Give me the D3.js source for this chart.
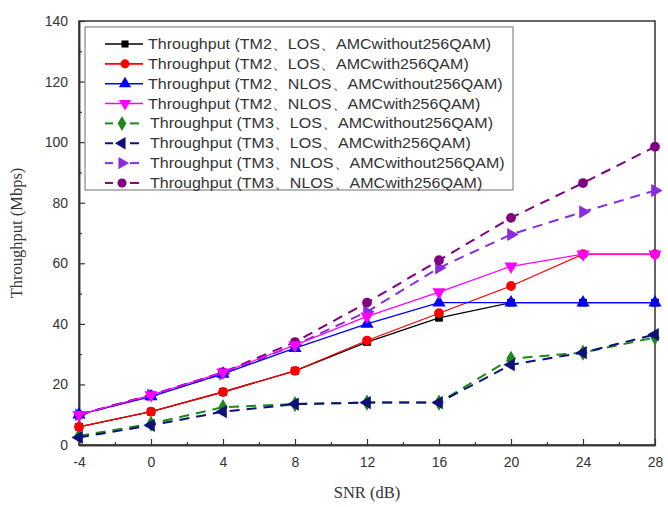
<!DOCTYPE html>
<html>
<head>
<meta charset="utf-8">
<script src="https://cdn.jsdelivr.net/npm/d3@7"></script>
<style>
  body { margin: 0; background: #fff; }
  svg text { fill: #333; }
</style>
</head>
<body>
<svg id="chart" width="668" height="507"></svg>
<script>
const snr = [-4, 0, 4, 8, 12, 16, 20, 24, 28];
const xTicks = [-4, 0, 4, 8, 12, 16, 20, 24, 28];
const yTicks = [0, 20, 40, 60, 80, 100, 120, 140];

const tm2LosWithout = [6, 11, 17.5, 24.5, 34, 42, 47, 47, 47];
const tm2LosWith = [6, 11, 17.5, 24.5, 34.5, 43.5, 52.5, 63, 63];
const tm2NlosWithout = [10, 16, 23.5, 32, 40, 47, 47, 47, 47];
const tm2NlosWith = [10, 16.5, 24, 33, 42.5, 50.5, 59, 63, 63];
const tm3LosWithout = [3, 7, 12.5, 13.5, 14, 14, 28.5, 30.5, 35.5];
const tm3LosWith = [2.5, 6.5, 11, 13.5, 14, 14, 26.5, 30.5, 36.5];
const tm3NlosWithout = [10, 16.5, 23.5, 33, 44, 58.5, 69.5, 77, 84];
const tm3NlosWith = [10, 16.5, 24, 34, 47, 61, 75, 86.5, 98.5];

const seriesNames = [
  "Throughput (TM2、LOS、AMCwithout256QAM)",
  "Throughput (TM2、LOS、AMCwith256QAM)",
  "Throughput (TM2、NLOS、AMCwithout256QAM)",
  "Throughput (TM2、NLOS、AMCwith256QAM)",
  "Throughput (TM3、LOS、AMCwithout256QAM)",
  "Throughput (TM3、LOS、AMCwith256QAM)",
  "Throughput (TM3、NLOS、AMCwithout256QAM)",
  "Throughput (TM3、NLOS、AMCwith256QAM)"
];

// drawing order matters a bit: later series sit on top
const series = [
  { name: seriesNames[4], values: tm3LosWithout, color: "#1a8a1a", marker: "diamond", dash: true },
  { name: seriesNames[5], values: tm3LosWith, color: "#10107a", marker: "left", dash: true },
  { name: seriesNames[6], values: tm3NlosWithout, color: "#8a2be2", marker: "right", dash: true },
  { name: seriesNames[7], values: tm3NlosWith, color: "#800080", marker: "circle", dash: true },
  { name: seriesNames[0], values: tm2LosWithout, color: "#000000", marker: "square", dash: false },
  { name: seriesNames[1], values: tm2LosWith, color: "#ff0000", marker: "circle", dash: false },
  { name: seriesNames[2], values: tm2NlosWithout, color: "#0000ff", marker: "up", dash: false },
  { name: seriesNames[3], values: tm2NlosWith, color: "#ff00ff", marker: "down", dash: false }
];
const legendOrder = [4, 5, 6, 7, 0, 1, 2, 3];

const margin = { left: 79, right: 13, top: 21, bottom: 62 };
const width = 668, height = 507;

const svg = d3.select("#chart");

const x = d3.scaleLinear().domain([-4, 28]).range([margin.left, width - margin.right]);
const y = d3.scaleLinear().domain([0, 140]).range([height - margin.bottom, margin.top]);

// frame
svg.append("rect")
  .attr("x", x(-4)).attr("y", y(140))
  .attr("width", x(28) - x(-4)).attr("height", y(0) - y(140))
  .attr("fill", "none").attr("stroke", "#333").attr("stroke-width", 1.5);

// axes, ticks pointing inward
svg.append("g")
  .attr("transform", `translate(0,${y(0)})`)
  .call(d3.axisBottom(x).tickValues(xTicks).tickFormat(d => String(d))
    .tickSizeInner(-6).tickSizeOuter(0).tickPadding(12));
svg.append("g")
  .attr("transform", `translate(0,${y(0)})`)
  .call(d3.axisBottom(x).tickValues(d3.range(-2, 28, 4)).tickSizeInner(-3).tickSizeOuter(0).tickFormat(""));

svg.append("g")
  .attr("transform", `translate(${x(-4)},0)`)
  .call(d3.axisLeft(y).tickValues(yTicks).tickFormat(d => String(d))
    .tickSizeInner(-6).tickSizeOuter(0).tickPadding(11));
svg.append("g")
  .attr("transform", `translate(${x(-4)},0)`)
  .call(d3.axisLeft(y).tickValues(d3.range(10, 140, 20)).tickSizeInner(-3).tickSizeOuter(0).tickFormat(""));

svg.selectAll(".domain").attr("stroke", "#333").attr("stroke-width", 1.5);
svg.selectAll(".tick line").attr("stroke", "#333").attr("stroke-width", 1.2);
svg.selectAll(".tick text")
  .attr("font-family", "Liberation Sans, Arial, sans-serif")
  .attr("font-size", 14)
  .attr("fill", "#444");

// axis titles
svg.append("text")
  .attr("x", x(12)).attr("y", 498)
  .attr("text-anchor", "middle")
  .attr("font-family", "Liberation Serif, Times New Roman, serif")
  .attr("font-size", 16.5)
  .text("SNR (dB)");

svg.append("text")
  .attr("transform", `translate(22,${(y(0) + y(140)) / 2}) rotate(-90)`)
  .attr("text-anchor", "middle")
  .attr("font-family", "Liberation Serif, Times New Roman, serif")
  .attr("font-size", 16.5)
  .text("Throughput (Mbps)");

// markers
function drawMarker(g, kind, color, cx, cy, size) {
  const rot = { up: 0, down: 180, left: -90, right: 90 }[kind];
  if (rot !== undefined) {
    g.append("path")
      .attr("d", d3.symbol(d3.symbolTriangle, size)())
      .attr("transform", `translate(${cx},${cy}) rotate(${rot})`)
      .attr("fill", color);
  } else {
    const sym = { square: d3.symbolSquare, circle: d3.symbolCircle, diamond: d3.symbolDiamond }[kind];
    g.append("path")
      .attr("d", d3.symbol(sym, size)())
      .attr("transform", `translate(${cx},${cy})`)
      .attr("fill", color);
  }
}

const line = d3.line()
  .x((d, i) => x(snr[i]))
  .y(d => y(d));

series.forEach(s => {
  const g = svg.append("g");
  g.append("path")
    .datum(s.values)
    .attr("d", line)
    .attr("fill", "none")
    .attr("stroke", s.color)
    .attr("stroke-width", s.dash ? 2 : 1.3)
    .attr("stroke-dasharray", s.dash ? "10,7" : null);
  s.values.forEach((v, i) => {
    drawMarker(g, s.marker, s.color, x(snr[i]), y(v), s.marker === "square" ? 60 : 75);
  });
});

// legend
const legend = svg.append("g");
legend.append("rect")
  .attr("x", 85).attr("y", 27)
  .attr("width", 428).attr("height", 163)
  .attr("fill", "#fff").attr("stroke", "#888").attr("stroke-width", 1.2);

const labels = [];
legendOrder.forEach((si, row) => {
  const s = series[si];
  const cy = 44 + row * 19.85;
  const lg = legend.append("g");
  if (s.dash) {
    lg.append("line").attr("x1", 105).attr("x2", 113).attr("y1", cy).attr("y2", cy)
      .attr("stroke", s.color).attr("stroke-width", 2);
    lg.append("line").attr("x1", 130).attr("x2", 139).attr("y1", cy).attr("y2", cy)
      .attr("stroke", s.color).attr("stroke-width", 2);
  } else {
    lg.append("line").attr("x1", 105).attr("x2", 143).attr("y1", cy).attr("y2", cy)
      .attr("stroke", s.color).attr("stroke-width", 1.6);
  }
  drawMarker(lg, s.marker, s.color, s.dash ? 122 : 125, cy, s.marker === "square" ? 50 : 65);
  const tx = s.dash ? 150 : 148;
  const t = lg.append("text")
    .attr("x", 0).attr("y", 0)
    .attr("transform", `translate(${tx},${cy + 5})`)
    .attr("font-family", "Liberation Sans, Arial, sans-serif")
    .attr("font-size", 14)
    .attr("fill", "#222")
    .text(s.name);
  labels.push({ t, tx, cy });
});

// stretch legend text a little so the longest row reaches the box edge like the original
const longest = d3.max(labels, d => d.t.node().getComputedTextLength());
const sx = 355 / longest;
labels.forEach(d => d.t.attr("transform", `translate(${d.tx},${d.cy + 5}) scale(${sx},1)`));
</script>
</body>
</html>
